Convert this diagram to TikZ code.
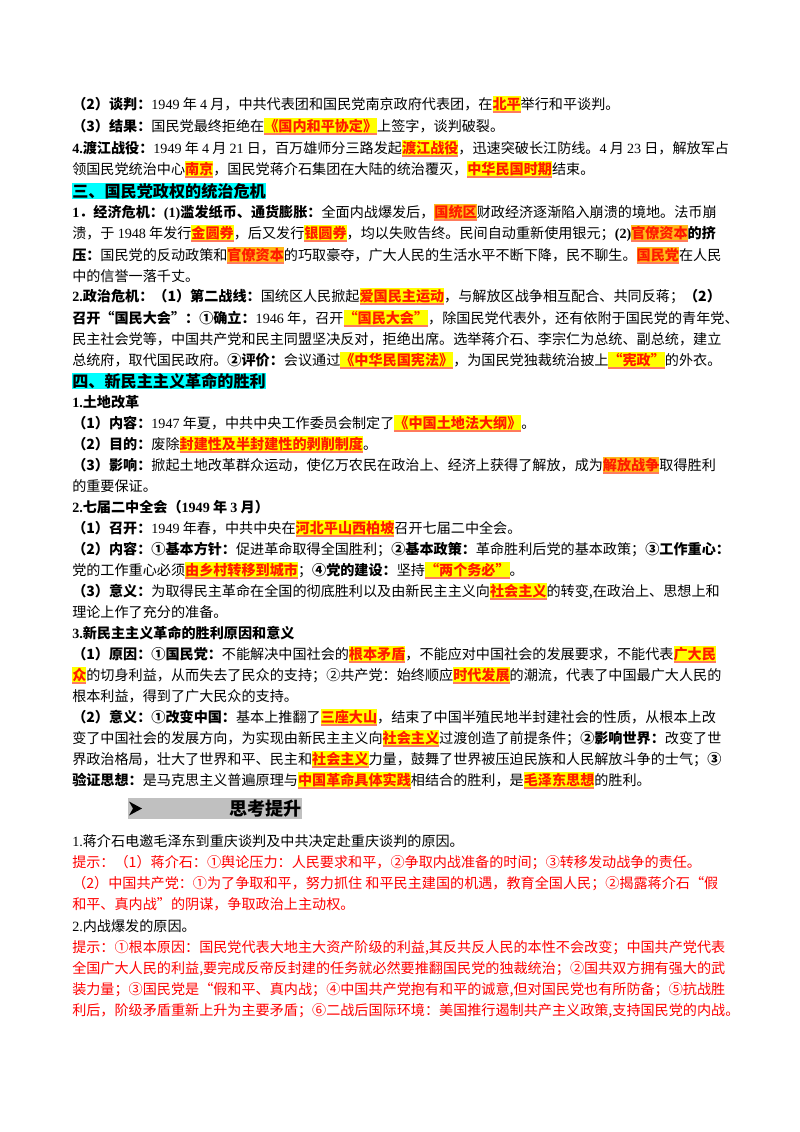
\documentclass[tikz,border=0pt]{standalone}
\usepackage{fontspec}
\setmainfont{Noto Sans CJK SC}
\newfontfamily\tnr{Liberation Serif}
\XeTeXlinebreaklocale "zh"
\XeTeXlinebreakskip=0pt plus 3pt minus 0.3pt
\XeTeXlinebreakpenalty=10000
\setlength\parindent{0pt}
\hbadness=10000 \hfuzz=20pt
\definecolor{hlyellow}{HTML}{FFFF00}
\definecolor{hlorange}{HTML}{FFB81A}
\definecolor{hlred}{HTML}{FF1A00}
\definecolor{hlline}{HTML}{FF7A5C}
\definecolor{hintred}{HTML}{FF0000}
\definecolor{seccyan}{HTML}{00FFFF}
\definecolor{bargray}{HTML}{C0C0C0}
\newsavebox\hlbox
\newcommand\hlbase[2]{\sbox\hlbox{\bfseries\color{hlred}#2}%
  \rlap{\color{#1}\rule[-2.6pt]{\wd\hlbox}{12.6pt}}%
  \rlap{\color{hlline}\rule[-2.6pt]{\wd\hlbox}{1.1pt}}%
  \usebox\hlbox}
\newcommand\hly[1]{\hlbase{hlyellow}{#1}}
\newcommand\hlo[1]{\hlbase{hlorange}{#1}}
\newcommand\dg[1]{{\tnr #1}}
\newcommand\jst{\parfillskip=0pt\relax}
\tikzset{
  txt/.style={anchor=base west, inner sep=0pt, text width=497pt, align=flush left,
    yshift=-4pt, font=\fontsize{10.5pt}{13pt}\selectfont},
  jtxt/.style={txt, align=justify},
  hint/.style={txt, text=hintred},
  jhint/.style={jtxt, text=hintred},
  secbar/.style={anchor=west, inner sep=0pt, fill=seccyan,
    font=\fontsize{12pt}{14pt}\selectfont\bfseries},
}
\begin{document}
\begin{tikzpicture}[x=0.7441pt, y=-0.7441pt]
\useasboundingbox (0,0) rectangle (800,1132);
\fill[white] (0,0) rectangle (800,1132);

\node[txt] (ln1) at (72,104) {\textbf{（2）谈判：}\dg{1949}~年~\dg{4}~月，中共代表团和国民党南京政府代表团，在\hly{北平}举行和平谈判。};
\node[txt] (ln2) at (72,126) {\textbf{（3）结果：}国民党最终拒绝在\hly{《国内和平协定》}上签字，谈判破裂。};
\node[jtxt] (ln3) at (72,148) {\jst\textbf{\dg{4.}渡江战役：}\dg{1949}~年~\dg{4}~月~\dg{21}~日，百万雄师分三路发起\hly{渡江战役}，迅速突破长江防线。\dg{4}~月~\dg{23}~日，解放军占};
\node[txt] (ln4) at (72,169) {领国民党统治中心\hly{南京}，国民党蒋介石集团在大陆的统治覆灭，\hly{中华民国时期}结束。};

\node[secbar] (sec3) at (72,191) {三、国民党政权的统治危机};
\node[jtxt] (ln6) at (72,212) {\jst\textbf{\dg{1}．经济危机：\dg{(1)}滥发纸币、通货膨胀：}全面内战爆发后，\hlo{国统区}财政经济逐渐陷入崩溃的境地。法币崩};
\node[jtxt] (ln7) at (72,233) {\jst 溃，于~\dg{1948}~年发行\hly{金圆券}，后又发行\hly{银圆券}，均以失败告终。民间自动重新使用银元；\textbf{\dg{(2)}}\hlo{官僚资本}\textbf{的挤}};
\node[jtxt] (ln8) at (72,255) {\jst\textbf{压：}国民党的反动政策和\hlo{官僚资本}的巧取豪夺，广大人民的生活水平不断下降，民不聊生。\hlo{国民党}在人民};
\node[txt] (ln9) at (72,276) {中的信誉一落千丈。};
\node[jtxt] (ln10) at (72,296) {\jst\textbf{\dg{2.}政治危机：（1）第二战线：}国统区人民掀起\hly{爱国民主运动}，与解放区战争相互配合、共同反蒋；\textbf{（2）}};
\node[jtxt] (ln11) at (72,318) {\jst\textbf{召开“国民大会”：①确立：}\dg{1946}~年，召开\hly{“国民大会”}，除国民党代表外，还有依附于国民党的青年党、};
\node[jtxt] (ln12) at (72,339) {\jst 民主社会党等，中国共产党和民主同盟坚决反对，拒绝出席。选举蒋介石、李宗仁为总统、副总统，建立};
\node[jtxt] (ln13) at (72,360) {\jst 总统府，取代国民政府。\textbf{②评价：}会议通过\hly{《中华民国宪法》}，为国民党独裁统治披上\hly{“宪政”}的外衣。};

\node[secbar] (sec4) at (72,381) {四、新民主主义革命的胜利};
\node[txt] (ln15) at (72,402) {\textbf{\dg{1.}土地改革}};
\node[txt] (ln16) at (72,423) {\textbf{（1）内容：}\dg{1947}~年夏，中共中央工作委员会制定了\hly{《中国土地法大纲》}。};
\node[txt] (ln17) at (72,444) {\textbf{（2）目的：}废除\hly{封建性及半封建性的剥削制度}。};
\node[jtxt] (ln18) at (72,465) {\jst\textbf{（3）影响：}掀起土地改革群众运动，使亿万农民在政治上、经济上获得了解放，成为\hlo{解放战争}取得胜利};
\node[txt] (ln19) at (72,486) {的重要保证。};
\node[txt] (ln20) at (72,507) {\textbf{\dg{2.}七届二中全会（\dg{1949}~年~\dg{3}~月）}};
\node[txt] (ln21) at (72,528) {\textbf{（1）召开：}\dg{1949}~年春，中共中央在\hly{河北平山西柏坡}召开七届二中全会。};
\node[jtxt] (ln22) at (72,549) {\jst\textbf{（2）内容：①基本方针：}促进革命取得全国胜利；\textbf{②基本政策：}革命胜利后党的基本政策；\textbf{③工作重心：}};
\node[txt] (ln23) at (72,570) {党的工作重心必须\hly{由乡村转移到城市}；\textbf{④党的建设：}坚持\hly{“两个务必”}。};
\node[jtxt] (ln24) at (72,591) {\jst\textbf{（3）意义：}为取得民主革命在全国的彻底胜利以及由新民主主义向\hly{社会主义}的转变,在政治上、思想上和};
\node[txt] (ln25) at (72,612) {理论上作了充分的准备。};
\node[txt] (ln26) at (72,633) {\textbf{\dg{3.}新民主主义革命的胜利原因和意义}};
\node[jtxt] (ln27) at (72,654) {\jst\textbf{（1）原因：①国民党：}不能解决中国社会的\hly{根本矛盾}，不能应对中国社会的发展要求，不能代表\hly{广大民}};
\node[jtxt] (ln28) at (72,675) {\jst\hly{众}的切身利益，从而失去了民众的支持；②共产党：始终顺应\hly{时代发展}的潮流，代表了中国最广大人民的};
\node[txt] (ln29) at (72,696) {根本利益，得到了广大民众的支持。};
\node[jtxt] (ln30) at (72,717) {\jst\textbf{（2）意义：①改变中国：}基本上推翻了\hly{三座大山}，结束了中国半殖民地半封建社会的性质，从根本上改};
\node[jtxt] (ln31) at (72,738) {\jst 变了中国社会的发展方向，为实现由新民主主义向\hly{社会主义}过渡创造了前提条件；\textbf{②影响世界：}改变了世};
\node[jtxt] (ln32) at (72,759) {\jst 界政治格局，壮大了世界和平、民主和\hly{社会主义}力量，鼓舞了世界被压迫民族和人民解放斗争的士气；\textbf{③}};
\node[txt] (ln33) at (72,780) {\textbf{验证思想：}是马克思主义普遍原理与\hly{中国革命具体实践}相结合的胜利，是\hly{毛泽东思想}的胜利。};

% thinking bar
\fill[bargray] (128,798) rectangle (302,819);
\fill (129,801.5) -- (142,808.5) -- (129,815.5) -- (133,808.5) -- cycle;
\node[anchor=west, inner sep=0pt, font=\fontsize{13.5pt}{15pt}\selectfont\bfseries] (think) at (229,808.5) {思考提升};

\node[txt] (ln35) at (72,841) {\dg{1.}蒋介石电邀毛泽东到重庆谈判及中共决定赴重庆谈判的原因。};
\node[hint] (ln36) at (72,862) {提示：（1）蒋介石：①舆论压力：人民要求和平，②争取内战准备的时间；③转移发动战争的责任。};
\node[jhint] (ln37) at (72,883) {\jst（2）中国共产党：①为了争取和平，努力抓住~和平民主建国的机遇，教育全国人民；②揭露蒋介石“假};
\node[hint] (ln38) at (72,904) {和平、真内战”的阴谋，争取政治上主动权。};
\node[txt] (ln39) at (72,926) {\dg{2.}内战爆发的原因。};
\node[jhint] (ln40) at (72,947) {\jst 提示：①根本原因：国民党代表大地主大资产阶级的利益,其反共反人民的本性不会改变；中国共产党代表};
\node[jhint] (ln41) at (72,968) {\jst 全国广大人民的利益,要完成反帝反封建的任务就必然要推翻国民党的独裁统治；②国共双方拥有强大的武};
\node[jhint] (ln42) at (72,989) {\jst 装力量；③国民党是“假和平、真内战；④中国共产党抱有和平的诚意,但对国民党也有所防备；⑤抗战胜};
\node[jhint] (ln43) at (72,1010) {\jst 利后，阶级矛盾重新上升为主要矛盾；⑥二战后国际环境：美国推行遏制共产主义政策,支持国民党的内战。};

\end{tikzpicture}
\end{document}
